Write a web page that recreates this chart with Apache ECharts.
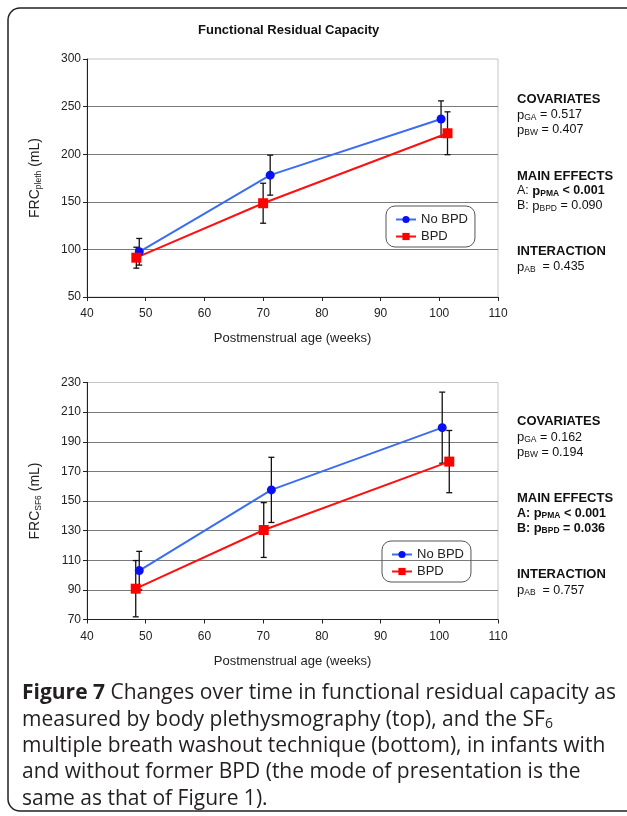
<!DOCTYPE html>
<html>
	<head>
		<meta charset="utf-8" />
		<title>Functional Residual Capacity</title>
		<script src="https://cdn.jsdelivr.net/npm/echarts@6/dist/echarts.min.js"></script>
		<style>
			html, body { margin: 0; padding: 0; background: #fff; }
			#main { width: 627px; height: 816px; }
		</style>
	</head>
	<body>
		<div id="main"></div>
	<script>
	// x ticks shared by both panels
	var xTicks = [40, 50, 60, 70, 80, 90, 100, 110];

	// top panel: FRC pleth
	var topNoX = [48.9, 71.2, 100.3];
	var topNoY = [97.5, 178, 237];
	var topNoErr = [14, 21, 19];
	var topBpdX = [48.4, 70.0, 101.4];
	var topBpdY = [91.3, 148.5, 222];
	var topBpdErr = [11, 21, 22.5];
	var topYTicks = [50, 100, 150, 200, 250, 300];

	// bottom panel: FRC SF6
	var botNoX = [48.9, 71.4, 100.5];
	var botNoY = [103, 157.5, 199.5];
	var botNoErr = [13, 22, 24];
	var botBpdX = [48.3, 70.1, 101.7];
	var botBpdY = [90.8, 130.4, 176.6];
	var botBpdErr = [19, 18.5, 21];
	var botYTicks = [70, 90, 110, 130, 150, 170, 190, 210, 230];

	var FONT = '"Liberation Sans", Arial, sans-serif';
	var CAP_FONT = '"Open Sans", "Noto Sans", sans-serif';

	function pts(xs, ys) {
		var out = [];
		for (var i = 0; i < xs.length; i++) out.push([xs[i], ys[i]]);
		return out;
	}
	function errs(xs, ys, es) {
		var out = [];
		for (var i = 0; i < xs.length; i++) out.push([xs[i], ys[i] - es[i], ys[i] + es[i]]);
		return out;
	}

	function errorSeries(idx, data) {
		return {
			type: 'custom',
			xAxisIndex: idx,
			yAxisIndex: idx,
			z: 1,
			silent: true,
			data: data,
			renderItem: function (params, api) {
				var lo = api.coord([api.value(0), api.value(1)]);
				var hi = api.coord([api.value(0), api.value(2)]);
				var w = 3;
				var st = { stroke: '#111', lineWidth: 1.3 };
				return {
					type: 'group',
					children: [
						{ type: 'line', shape: { x1: lo[0], y1: lo[1], x2: hi[0], y2: hi[1] }, style: st },
						{ type: 'line', shape: { x1: hi[0] - w, y1: hi[1], x2: hi[0] + w, y2: hi[1] }, style: st },
						{ type: 'line', shape: { x1: lo[0] - w, y1: lo[1], x2: lo[0] + w, y2: lo[1] }, style: st }
					]
				};
			}
		};
	}

	function lineSeries(name, idx, data, lineColor, dotColor, symbol, size) {
		return {
			name: name,
			type: 'line',
			xAxisIndex: idx,
			yAxisIndex: idx,
			z: 3,
			data: data,
			symbol: symbol,
			symbolSize: size,
			showAllSymbol: true,
			lineStyle: { color: lineColor, width: 2 },
			itemStyle: { color: dotColor, borderWidth: 0 }
		};
	}

	function xAxisCfg(idx) {
		return {
			type: 'value', gridIndex: idx, min: 40, max: 110, interval: 10,
			name: 'Postmenstrual age (weeks)', nameLocation: 'middle', nameGap: 35,
			nameTextStyle: { fontFamily: FONT, fontSize: 13, color: '#222' },
			axisLine: { lineStyle: { color: '#222', width: 1 } },
			axisTick: { show: true, length: 4, lineStyle: { color: '#222' } },
			axisLabel: { fontFamily: FONT, fontSize: 12, color: '#222', margin: 11 },
			splitLine: { show: false }
		};
	}

	function yAxisCfg(idx, min, max, interval, sub) {
		return {
			type: 'value', gridIndex: idx, min: min, max: max, interval: interval,
			name: '{a|FRC}{b|' + sub + '}{a| (mL)}', nameLocation: 'middle', nameGap: 44,
			nameTextStyle: {
				fontFamily: FONT, color: '#222',
				rich: {
					a: { fontFamily: FONT, fontSize: 14, color: '#222' },
					b: { fontFamily: FONT, fontSize: 8.5, color: '#222', verticalAlign: 'bottom', padding: [6, 0, 0, 0] }
				}
			},
			axisLine: { show: true, lineStyle: { color: '#222', width: 1 } },
			axisTick: { show: true, length: 4, lineStyle: { color: '#222' } },
			axisLabel: { fontFamily: FONT, fontSize: 12, color: '#222', margin: 6 },
			splitLine: { show: true, showMaxLine: false, lineStyle: { color: '#7a7a7a', width: 1 } }
		};
	}

	function legendCfg(left, top) {
		return {
			data: ['No BPD', 'BPD'],
			orient: 'vertical',
			left: left, top: top,
			padding: [7, 7, 4, 9],
			itemGap: 4,
			itemWidth: 20,
			itemHeight: 9,
			borderColor: '#555',
			borderWidth: 1,
			borderRadius: 9,
			selectedMode: false,
			textStyle: { fontFamily: FONT, fontSize: 13, color: '#222' }
		};
	}

	// right-hand statistics text
	function sideText(x, y, lines) {
		var out = [];
		for (var i = 0; i < lines.length; i++) {
			out.push({
				type: 'text', left: x, top: y + lines[i][0],
				style: {
					text: lines[i][1],
					fontFamily: FONT, fontSize: 12.5, fill: '#111',
					rich: {
						h: { fontFamily: FONT, fontSize: 13, fontWeight: 'bold', fill: '#111' },
						t: { fontFamily: FONT, fontSize: 12.5, fill: '#111' },
						tb: { fontFamily: FONT, fontSize: 12.5, fontWeight: 'bold', fill: '#111' },
						p: { fontFamily: FONT, fontSize: 13, fill: '#111' },
						pb: { fontFamily: FONT, fontSize: 13, fontWeight: 'bold', fill: '#111' },
						s: { fontFamily: FONT, fontSize: 8.5, fill: '#111', verticalAlign: 'bottom', padding: [5, 0, 0, 0] },
						sb: { fontFamily: FONT, fontSize: 8.5, fontWeight: 'bold', fill: '#111', verticalAlign: 'bottom', padding: [5, 0, 0, 0] }
					}
				}
			});
		}
		return out;
	}

	var topStats = [
		[0, '{h|COVARIATES}'],
		[16, '{p|p}{s|GA}{t| = 0.517}'],
		[31, '{p|p}{s|BW}{t| = 0.407}'],
		[77, '{h|MAIN EFFECTS}'],
		[92, '{t|A: }{pb|p}{sb|PMA}{tb| < 0.001}'],
		[107, '{t|B: }{p|p}{s|BPD}{t| = 0.090}'],
		[152, '{h|INTERACTION}'],
		[168, '{p|p}{s|AB}{t|  = 0.435}']
	];
	var botStats = [
		[0, '{h|COVARIATES}'],
		[16, '{p|p}{s|GA}{t| = 0.162}'],
		[31, '{p|p}{s|BW}{t| = 0.194}'],
		[77, '{h|MAIN EFFECTS}'],
		[92, '{tb|A: }{pb|p}{sb|PMA}{tb| < 0.001}'],
		[107, '{tb|B: }{pb|p}{sb|BPD}{tb| = 0.036}'],
		[153, '{h|INTERACTION}'],
		[169, '{p|p}{s|AB}{t|  = 0.757}']
	];

	var captionLines = [
		'{b|Figure 7} Changes over time in functional residual capacity as',
		'measured by body plethysmography (top), and the SF{s|6}',
		'multiple breath washout technique (bottom), in infants with',
		'and without former BPD (the mode of presentation is the',
		'same as that of Figure 1).'
	];

	var graphics = [
		{
			type: 'rect', z: 0, silent: true,
			shape: { x: 8, y: 8, width: 700, height: 803, r: 12 },
			style: { fill: 'none', stroke: '#222', lineWidth: 1.5 }
		},
		{
			type: 'text', left: 198, top: 24,
			style: { text: 'Functional Residual Capacity', fontFamily: FONT, fontSize: 13, fontWeight: 'bold', fill: '#111' }
		}
	];
	graphics = graphics.concat(sideText(517, 92.5, topStats), sideText(517, 415, botStats));
	for (var i = 0; i < captionLines.length; i++) {
		graphics.push({
			type: 'text', left: 22, top: 683 + i * 26.3,
			style: {
				text: captionLines[i],
				fontFamily: CAP_FONT, fontSize: 21, fontWeight: 500, fill: '#231f20',
				rich: {
					b: { fontFamily: CAP_FONT, fontSize: 21, fontWeight: 'bold', fill: '#231f20' },
					s: { fontFamily: CAP_FONT, fontSize: 14, fontWeight: 500, fill: '#231f20', verticalAlign: 'bottom', padding: [8, 0, 0, 0] }
				}
			}
		});
	}

	var chart = echarts.init(document.getElementById('main'), null, { renderer: 'canvas' });

	var option = {
		animation: false,
		backgroundColor: '#fff',
		grid: [
			{ left: 87, top: 59, width: 411, height: 238, show: true, borderColor: '#c4c4c4', borderWidth: 1, backgroundColor: '#fff' },
			{ left: 87, top: 382.5, width: 411, height: 237, show: true, borderColor: '#c4c4c4', borderWidth: 1, backgroundColor: '#fff' }
		],
		xAxis: [xAxisCfg(0), xAxisCfg(1)],
		yAxis: [
			yAxisCfg(0, topYTicks[0], topYTicks[topYTicks.length - 1], 50, 'pleth'),
			yAxisCfg(1, botYTicks[0], botYTicks[botYTicks.length - 1], 20, 'SF6')
		],
		legend: [legendCfg(386, 206), legendCfg(382, 541)],
		series: [
			errorSeries(0, errs(topNoX, topNoY, topNoErr)),
			errorSeries(0, errs(topBpdX, topBpdY, topBpdErr)),
			lineSeries('No BPD', 0, pts(topNoX, topNoY), '#3a6df0', '#0a10f5', 'circle', 9),
			lineSeries('BPD', 0, pts(topBpdX, topBpdY), '#ff1010', '#ff0000', 'rect', 10),
			errorSeries(1, errs(botNoX, botNoY, botNoErr)),
			errorSeries(1, errs(botBpdX, botBpdY, botBpdErr)),
			lineSeries('No BPD', 1, pts(botNoX, botNoY), '#3a6df0', '#0a10f5', 'circle', 9),
			lineSeries('BPD', 1, pts(botBpdX, botBpdY), '#ff1010', '#ff0000', 'rect', 10)
		],
		graphic: graphics
	};

	chart.setOption(option);
	</script>
	</body>
</html>
